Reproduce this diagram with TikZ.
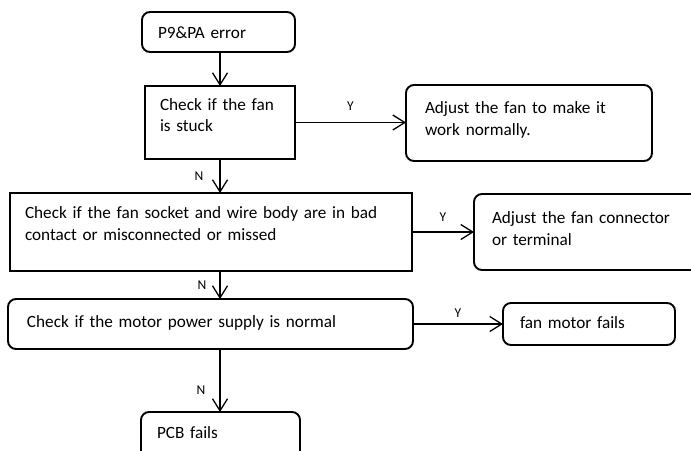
\documentclass[tikz,border=0pt]{standalone}
\usepackage{fontspec}
\setmainfont{Carlito}
\usetikzlibrary{arrows.meta}

\tikzset{
  box/.style={draw, line width=1.9pt, outer sep=0pt, anchor=north west, align=left,
    inner ysep=0pt, font=\fontsize{17.2}{21.5}\selectfont},
  rbox/.style={box, rounded corners=8pt},
  arr/.style={line width=1.3pt, -{Straight Barb[length=12pt,width=15pt]}},
  lbl/.style={font=\fontsize{13.5}{15}\selectfont, inner sep=0pt}
}

\begin{document}
\begin{tikzpicture}[x=1pt, y=-1pt]
    \useasboundingbox (0,0) rectangle (691,450);

    \coordinate (spine) at (220,0);

    \node[rbox, text width=121pt, inner xsep=16pt, text height=26.5pt, text depth=13.5pt]
        (start) at (142,12) {P9\&PA error};
    \node[box, text width=120pt, inner xsep=15pt, text height=24pt, text depth=49pt]
        (chkfan) at (145,86) {Check if the fan\\is stuck};
    \node[rbox, text width=208pt, inner xsep=19pt, text height=28.5pt, text depth=47.5pt]
        (adjfan) at (406,85) {Adjust the fan to make it\\work normally.};
    \node[box, text width=372pt, inner xsep=15pt, text height=25.5pt, text depth=52.5pt]
        (chkwire) at (10,193) {Check if the fan socket and wire body are in bad\\contact or misconnected or missed};
    \node[rbox, text width=190pt, inner xsep=18pt, text height=29.5pt, text depth=46.5pt]
        (adjwire) at (474,194) {Adjust the fan connector\\or terminal};
    \node[rbox, text width=367pt, inner xsep=19pt, text height=28.5pt, text depth=21.5pt]
        (chkpower) at (8,299) {Check if the motor power supply is normal};
    \node[rbox, text width=138pt, inner xsep=17pt, text height=25.5pt, text depth=16.5pt]
        (motor) at (503,303) {fan motor fails};
    \node[rbox, text width=127pt, inner xsep=16pt, text height=26.5pt, text depth=31.5pt]
        (pcb) at (141,412) {PCB fails};

    \draw[arr] (spine |- start.south) -- (spine |- chkfan.north);
    \draw[arr] (chkfan.east) -- node[lbl, above=11pt] {Y} (chkfan.east -| adjfan.west);
    \draw[arr] (spine |- chkfan.south) -- node[lbl, left=16pt] {N} (spine |- chkwire.north);
    \draw[arr] (chkwire.east) -- node[lbl, above=10pt] {Y} (adjwire.west);
    \draw[arr] (spine |- chkwire.south) -- node[lbl, left=13pt] {N} (spine |- chkpower.north);
    \draw[arr] (chkpower.east) -- node[lbl, above=6pt] {Y} (motor.west);
    \draw[arr] (spine |- chkpower.south) -- node[lbl, left=14pt, pos=0.66] {N} (spine |- pcb.north);
\end{tikzpicture}
\end{document}
